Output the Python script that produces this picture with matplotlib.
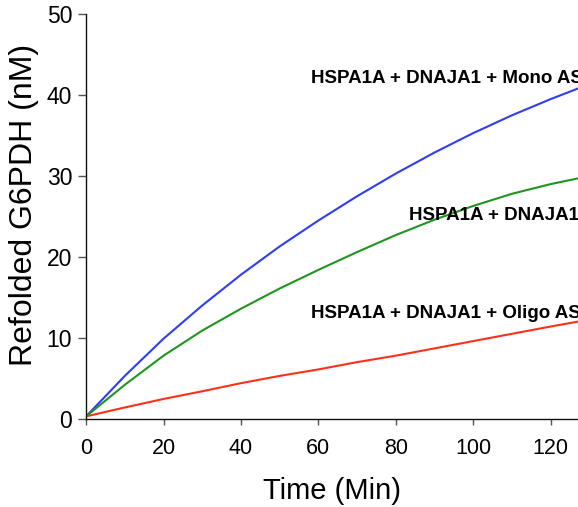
import numpy as np
import matplotlib
matplotlib.use('Agg')
import matplotlib.pyplot as plt

plt.rcParams['font.family'] = ['Liberation Sans', 'DejaVu Sans']

# time points (min) and refolded G6PDH (nM)
time = [0, 10, 20, 30, 40, 50, 60, 70, 80, 90, 100, 110, 120, 127]
mono = [0.3, 5.3, 9.9, 14.0, 17.8, 21.3, 24.5, 27.5, 30.3, 32.9, 35.3, 37.5, 39.5, 40.8]
plain = [0.3, 4.2, 7.8, 10.9, 13.6, 16.1, 18.4, 20.6, 22.7, 24.6, 26.3, 27.8, 29.0, 29.7]
oligo = [0.3, 1.4, 2.45, 3.4, 4.4, 5.3, 6.1, 7.0, 7.8, 8.7, 9.6, 10.5, 11.4, 12.0]

labels = ['HSPA1A + DNAJA1 + Mono AS', 'HSPA1A + DNAJA1', 'HSPA1A + DNAJA1 + Oligo AS']
label_pos = [(58.1, 42.1), (83.4, 25.1), (58.1, 13.0)]

xticks = [0, 20, 40, 60, 80, 100, 120]
yticks = [0, 10, 20, 30, 40, 50]

fig = plt.figure(figsize=(5.78, 5.07), dpi=100)
ax = fig.add_axes([0.149, 0.174, 0.851, 0.798])

ax.plot(time, mono, color='#2f3df5', lw=1.5)
ax.plot(time, plain, color='#1f951f', lw=1.5)
ax.plot(time, oligo, color='#ff3019', lw=1.5)

# labels run off the right edge, as in the original figure
for lab, (lx, ly) in zip(labels, label_pos):
    ax.text(lx, ly, lab, fontsize=13.5, fontweight='bold', va='center', ha='left', clip_on=False)

ax.set_xlim(0, 127.1)
ax.set_ylim(0, 50)
ax.set_xticks(xticks)
ax.set_yticks(yticks)
ax.spines['top'].set_visible(False)
ax.spines['right'].set_visible(False)
for s in ['left', 'bottom']:
    ax.spines[s].set_linewidth(1.0)
    ax.spines[s].set_color('#111111')

ax.tick_params(axis='y', length=6, width=1, color='#555555', labelsize=16.5, pad=4)
ax.tick_params(axis='x', length=4.5, width=1, color='#555555', labelsize=15.5, pad=9)

ax.set_xlabel('Time (Min)', fontsize=21, labelpad=13)
ax.set_ylabel('Refolded G6PDH (nM)', fontsize=23)
ax.yaxis.set_label_coords(-0.095, 0.528)

fig.savefig('out.png', dpi=100)
